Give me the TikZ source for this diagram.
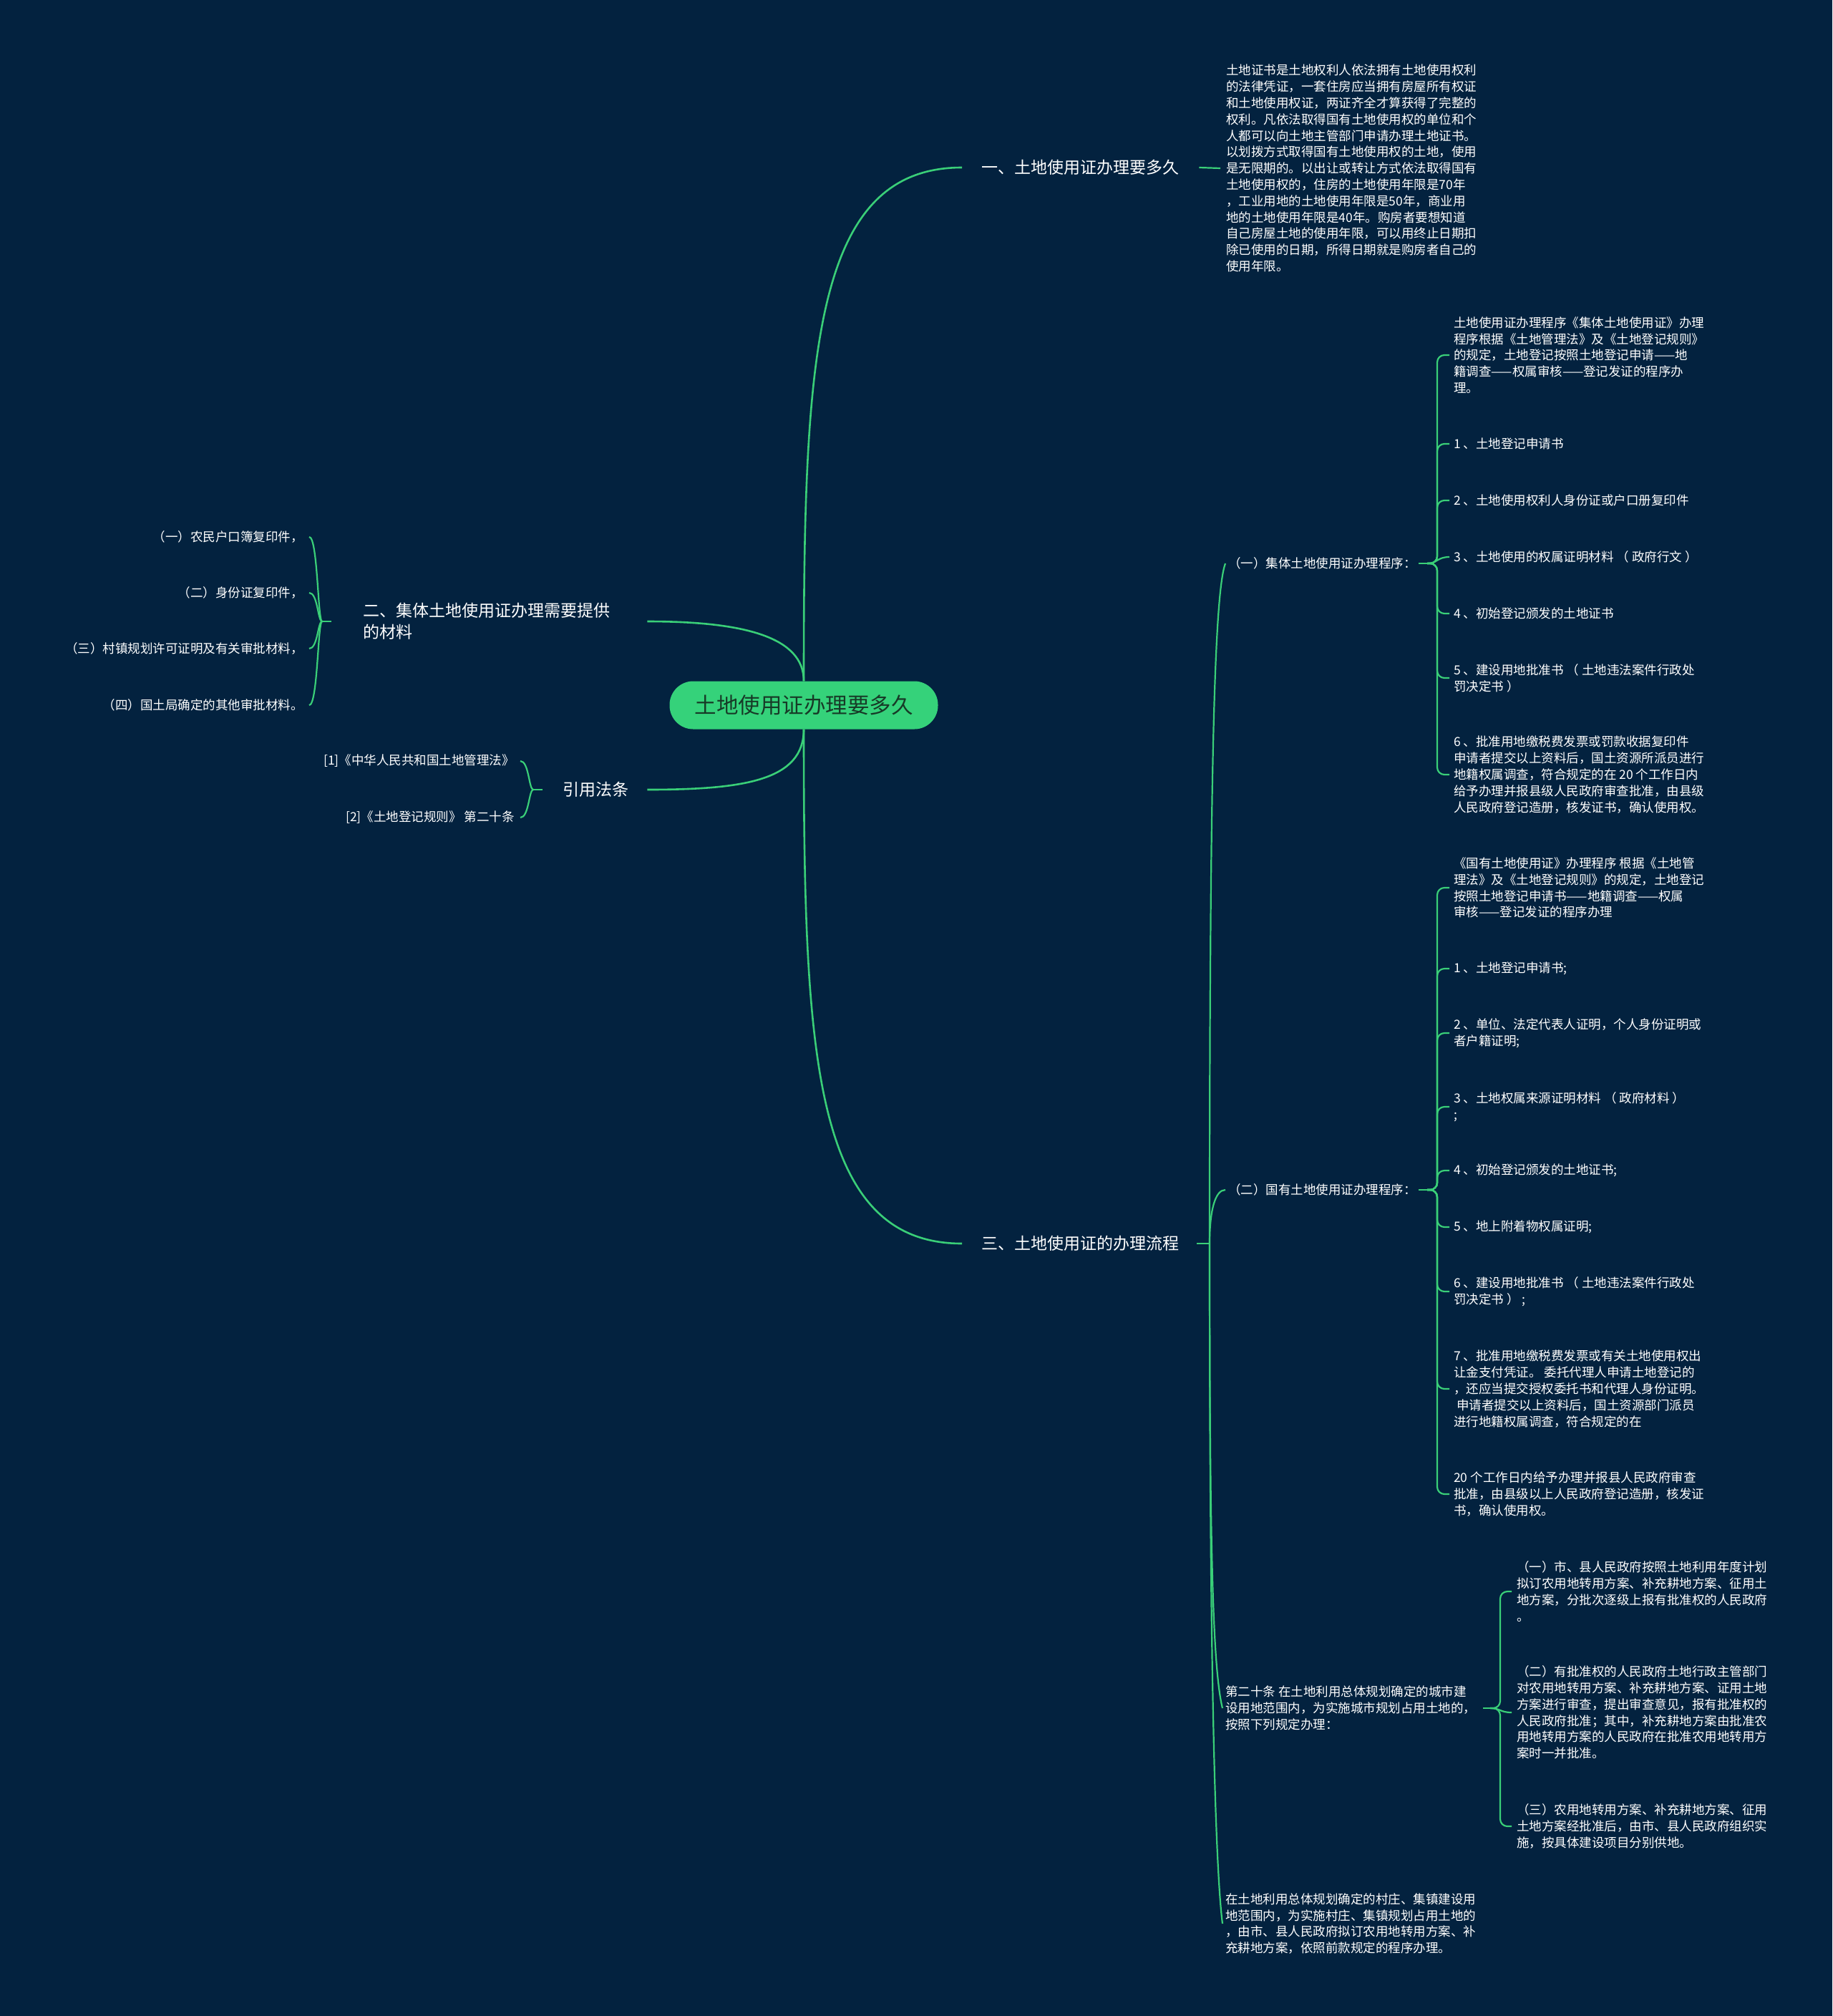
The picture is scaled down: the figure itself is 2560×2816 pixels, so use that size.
\documentclass[tikz,border=0pt]{standalone}
\usepackage{fontspec}
\newfontfamily\cjk{Noto Sans CJK SC}
\usetikzlibrary{calc}
\definecolor{bg}{HTML}{03223F}
\definecolor{ln}{HTML}{3ACF78}
\definecolor{rootfill}{HTML}{35D27A}
\definecolor{roottext}{HTML}{173A27}
\begin{document}
\begin{tikzpicture}[x=1pt,y=-1pt,
  edge/.style={draw=ln, line width=2.6pt},
  sub/.style={draw=ln, line width=2.2pt},
  brk/.style={sub, rounded corners=10pt},
  small/.style={text=white, inner sep=0pt, font=\cjk\fontsize{17.5}{22.8}\selectfont, align=left, anchor=west},
  smallr/.style={small, align=right, anchor=east},
  lvl/.style={text=white, inner sep=0pt, font=\cjk\fontsize{23}{30}\selectfont, align=left, anchor=west},
  rootbox/.style={fill=rootfill, text=roottext, rounded corners=33pt, minimum width=375pt, minimum height=67pt, inner sep=0pt, font=\cjk\fontsize{30.5}{36}\selectfont}
]
\useasboundingbox (0,0) rectangle (2560,2816);
\fill[bg] (0,0) rectangle (2560,2816);

% root
\node[rootbox] (root) at (1123,985) {土地使用证办理要多久};

% level 1
\node[lvl] (n1) at (1371,234) {一、土地使用证办理要多久};
\node[lvl] (n2) at (507,868) {二、集体土地使用证办理需要提供\\的材料};
\node[lvl] (n3) at (786,1103) {引用法条};
\node[lvl] (n4) at (1371,1737) {三、土地使用证的办理流程};

% text of 一
\node[small] (t1) at (1713,235) {土地证书是土地权利人依法拥有土地使用权利\\的法律凭证，一套住房应当拥有房屋所有权证\\和土地使用权证，两证齐全才算获得了完整的\\权利。凡依法取得国有土地使用权的单位和个\\人都可以向土地主管部门申请办理土地证书。\\以划拨方式取得国有土地使用权的土地，使用\\是无限期的。以出让或转让方式依法取得国有\\土地使用权的，住房的土地使用年限是70年\\，工业用地的土地使用年限是50年，商业用\\地的土地使用年限是40年。购房者要想知道\\自己房屋土地的使用年限，可以用终止日期扣\\除已使用的日期，所得日期就是购房者自己的\\使用年限。};

% children of 二
\node[smallr] (e1) at (424,750) {（一）农民户口簿复印件，};
\node[smallr] (e2) at (424,828) {（二）身份证复印件，};
\node[smallr] (e3) at (424,906) {（三）村镇规划许可证明及有关审批材料，};
\node[smallr] (e4) at (424,985) {（四）国土局确定的其他审批材料。};

% children of 引用法条
\node[smallr] (r1) at (719,1063) {[1]《中华人民共和国土地管理法》};
\node[smallr] (r2) at (719,1142) {[2]《土地登记规则》 第二十条};

% children of 三
\node[small] (A) at (1716,787) {（一）集体土地使用证办理程序：};
\node[small] (B) at (1716,1662) {（二）国有土地使用证办理程序：};
\node[small] (C) at (1712,2386) {第二十条 在土地利用总体规划确定的城市建\\设用地范围内，为实施城市规划占用土地的，\\按照下列规定办理：};
\node[small] (D) at (1712,2687) {在土地利用总体规划确定的村庄、集镇建设用\\地范围内，为实施村庄、集镇规划占用土地的\\，由市、县人民政府拟订农用地转用方案、补\\充耕地方案，依照前款规定的程序办理。};

% children of A
\node[small] (a0) at (2031,496) {土地使用证办理程序《集体土地使用证》办理\\程序根据《土地管理法》及《土地登记规则》\\的规定，土地登记按照土地登记申请——地\\籍调查——权属审核——登记发证的程序办\\理。};
\node[small] (a1) at (2031,620) {1 、土地登记申请书};
\node[small] (a2) at (2031,699) {2 、土地使用权利人身份证或户口册复印件};
\node[small] (a3) at (2031,778) {3 、土地使用的权属证明材料 （ 政府行文 ）};
\node[small] (a4) at (2031,857) {4 、初始登记颁发的土地证书};
\node[small] (a5) at (2031,947) {5 、建设用地批准书 （ 土地违法案件行政处\\罚决定书 ）};
\node[small] (a6) at (2031,1082) {6 、批准用地缴税费发票或罚款收据复印件\\申请者提交以上资料后，国土资源所派员进行\\地籍权属调查，符合规定的在 20 个工作日内\\给予办理并报县级人民政府审查批准，由县级\\人民政府登记造册，核发证书，确认使用权。};

% children of B
\node[small] (b0) at (2031,1240) {《国有土地使用证》办理程序 根据《土地管\\理法》及《土地登记规则》的规定，土地登记\\按照土地登记申请书——地籍调查——权属\\审核——登记发证的程序办理};
\node[small] (b1) at (2031,1353) {1 、土地登记申请书;};
\node[small] (b2) at (2031,1443) {2 、单位、法定代表人证明，个人身份证明或\\者户籍证明;};
\node[small] (b3) at (2031,1546) {3 、土地权属来源证明材料 （ 政府材料 ）\\;};
\node[small] (b4) at (2031,1635) {4 、初始登记颁发的土地证书;};
\node[small] (b5) at (2031,1714) {5 、地上附着物权属证明;};
\node[small] (b6) at (2031,1804) {6 、建设用地批准书 （ 土地违法案件行政处\\罚决定书 ） ;};
\node[small] (b7) at (2031,1940) {7 、批准用地缴税费发票或有关土地使用权出\\让金支付凭证。 委托代理人申请土地登记的\\，还应当提交授权委托书和代理人身份证明。\\\hspace*{4pt}申请者提交以上资料后，国土资源部门派员\\进行地籍权属调查，符合规定的在};
\node[small] (b8) at (2031,2087) {20 个工作日内给予办理并报县人民政府审查\\批准，由县级以上人民政府登记造册，核发证\\书，确认使用权。};

% children of C
\node[small] (c0) at (2119,2223) {（一）市、县人民政府按照土地利用年度计划\\拟订农用地转用方案、补充耕地方案、征用土\\地方案，分批次逐级上报有批准权的人民政府\\。};
\node[small] (c1) at (2119,2392) {（二）有批准权的人民政府土地行政主管部门\\对农用地转用方案、补充耕地方案、证用土地\\方案进行审查，提出审查意见，报有批准权的\\人民政府批准；其中，补充耕地方案由批准农\\用地转用方案的人民政府在批准农用地转用方\\案时一并批准。};
\node[small] (c2) at (2119,2551) {（三）农用地转用方案、补充耕地方案、征用\\土地方案经批准后，由市、县人民政府组织实\\施，按具体建设项目分别供地。};

% ---- connectors from root
\draw[edge] (root.north) .. controls (1123,500) and (1135,234) .. ([xshift=-27pt]n1.west);
\draw[edge] (root.north) .. controls (1123,890) and (1040,868) .. ([xshift=52pt]n2.east);
\draw[edge] (root.south) .. controls (1123,1090) and (1040,1103) .. ([xshift=26pt]n3.east);
\draw[edge] (root.south) .. controls (1123,1470) and (1135,1737) .. ([xshift=-27pt]n4.west);

% 一 -> text
\draw[sub] ([xshift=28pt]n1.east) -- ([xshift=-8pt]t1.west);

% 二 bracket
\coordinate (j2) at (450,868);
\coordinate (v2) at (444,868);
\draw[sub] ([xshift=-44pt]n2.west) -- (j2);
\foreach \n in {e1,e2,e3,e4}
  \draw[sub] (j2) .. controls (v2) and (v2 |- \n.east) .. ([xshift=8pt]\n.east);

% 引用法条 bracket
\coordinate (j3l) at (745,1103);
\coordinate (v3l) at (739,1103);
\draw[sub] ([xshift=-28pt]n3.west) -- (j3l);
\foreach \n in {r1,r2}
  \draw[sub] (j3l) .. controls (v3l) and (v3l |- \n.east) .. ([xshift=8pt]\n.east);

% 三 bracket
\coordinate (j3) at (1690,1737);
\draw[sub] ([xshift=25pt]n4.east) -- (j3);
\draw[sub] (j3) .. controls (1690,1100) and (1696,830) .. ([xshift=-4pt]A.west);
\draw[sub] (j3) .. controls (1690,1690) and (1698,1662) .. ([xshift=-4pt]B.west);
\draw[sub] (j3) .. controls (1690,2150) and (1694,2330) .. ([xshift=-4pt]C.west);
\draw[sub] (j3) .. controls (1690,2300) and (1697,2600) .. ([xshift=-4pt]D.west);

% A bracket
\coordinate (jA) at (1994,787);
\coordinate (vA) at (2008,787);
\draw[sub] ([xshift=3pt]A.east) -- (jA);
\foreach \n in {a0,a1,a2,a4,a5,a6}
  \draw[brk] (jA) -- (vA) -- (vA |- \n.west) -- ([xshift=-6pt]\n.west);
\draw[sub] (jA) .. controls (vA) and (vA |- a3.west) .. ([xshift=-6pt]a3.west);

% B bracket
\coordinate (jB) at (1994,1662);
\coordinate (vB) at (2008,1662);
\draw[sub] ([xshift=3pt]B.east) -- (jB);
\foreach \n in {b0,b1,b2,b3,b4,b5,b6,b7,b8}
  \draw[brk] (jB) -- (vB) -- (vB |- \n.west) -- ([xshift=-6pt]\n.west);

% C bracket
\coordinate (jC) at (2082,2386);
\coordinate (vC) at (2096,2386);
\draw[sub] ([xshift=10pt]C.east) -- (jC);
\foreach \n in {c0,c2}
  \draw[brk] (jC) -- (vC) -- (vC |- \n.west) -- ([xshift=-7pt]\n.west);
\draw[sub] (jC) .. controls (vC) and (vC |- c1.west) .. ([xshift=-7pt]c1.west);
\end{tikzpicture}
\end{document}
